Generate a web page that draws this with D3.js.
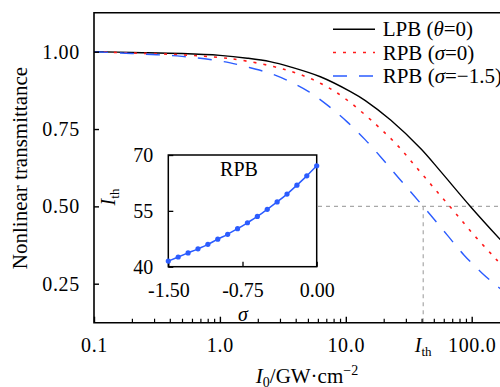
<!DOCTYPE html>
<html><head><meta charset="utf-8">
<script src="https://cdn.jsdelivr.net/npm/d3@7"></script>
<style>
html,body{margin:0;padding:0;background:#fff;}
svg{display:block;}
text{font-family:"Liberation Serif","Times New Roman",serif;fill:#000;}
</style></head>
<body>
<svg id="chart" width="500" height="387"></svg>
<script>
// ---- data ----
const lpbI = [0.1, 0.2, 0.5, 1.0, 1.65, 2.5, 3.62, 6.28, 10.9, 14.3, 22.7, 39.3, 56.6, 98, 170, 220];
const lpbT = [1.0, 0.9975, 0.994, 0.988, 0.979, 0.968, 0.951, 0.919, 0.871, 0.842, 0.779, 0.687, 0.613, 0.499, 0.391, 0.342];
const rpb0I = [0.1, 0.2, 0.5, 1.0, 1.45, 2.67, 4.10, 6.28, 9.62, 17.2, 25.6, 36.9, 53.2, 74.4, 107, 158, 220];
const rpb0T = [1.0, 0.996, 0.990, 0.981, 0.973, 0.952, 0.930, 0.898, 0.852, 0.766, 0.698, 0.623, 0.547, 0.478, 0.402, 0.327, 0.261];
const rpb15I = [0.1, 0.2, 0.5, 1.0, 1.21, 1.74, 2.51, 3.62, 5.07, 7.10, 10.2, 14.3, 19.4, 26.4, 34.7, 47.1, 64.0, 86.7, 121, 164, 220];
const rpb15T = [1.0, 0.994, 0.985, 0.970, 0.964, 0.948, 0.930, 0.903, 0.871, 0.828, 0.774, 0.715, 0.655, 0.591, 0.535, 0.472, 0.407, 0.343, 0.284, 0.238, 0.195];
const xTicks = [0.1, 1, 10, 100];
const yTicks = [0.25, 0.50, 0.75, 1.00];
const ith = 41.2;       // threshold intensity for sigma=-1.5
const ithT = 0.5;
// inset
const sigma = [-1.5, -1.4, -1.3, -1.2, -1.1, -1.0, -0.9, -0.8, -0.7, -0.6, -0.5, -0.4, -0.3, -0.2, -0.1, 0.0];
const ithVals = [41.5, 42.6, 43.7, 44.8, 46.0, 47.4, 48.7, 50.2, 51.8, 53.5, 55.4, 57.4, 59.5, 61.9, 64.4, 67.1];
const insetXTicks = [-1.5, -0.75, 0];
const insetYTicks = [40, 55, 70];

const series = [
  {I: lpbI, T: lpbT, color: "#000000", dash: null, width: 1.4, label: ["LPB (", "θ", "=0)"]},
  {I: rpb0I, T: rpb0T, color: "#ff1a1a", dash: "3,7", width: 1.6, label: ["RPB (", "σ", "=0)"]},
  {I: rpb15I, T: rpb15T, color: "#2b5cff", dash: "14,12", width: 1.4, label: ["RPB (", "σ", "=−1.5)"]}
];

const svg = d3.select("#chart");
const L = 94, R = 620, T0 = 12.7, B = 322.7;
const x = d3.scaleLog().domain([0.1, 100]).range([94, 471.7]);
const y = d3.scaleLinear().domain([0.25, 1.0]).range([283.7, 51.7]);

svg.append("defs").append("clipPath").attr("id", "pc")
  .append("rect").attr("x", L).attr("y", T0).attr("width", R - L).attr("height", B - T0);

// curves
const line = d3.line().x(d => x(d[0])).y(d => y(d[1])).curve(d3.curveCatmullRom.alpha(0.5));
const gc = svg.append("g").attr("clip-path", "url(#pc)");

// threshold guides
gc.append("line").attr("x1", 318).attr("x2", R).attr("y1", y(ithT)).attr("y2", y(ithT))
  .attr("stroke", "#a8a8a8").attr("stroke-width", 1.2).attr("stroke-dasharray", "4,4");
gc.append("line").attr("x1", x(ith)).attr("x2", x(ith)).attr("y1", y(ithT)).attr("y2", B)
  .attr("stroke", "#a8a8a8").attr("stroke-width", 1.2).attr("stroke-dasharray", "4,4");

series.forEach(s => {
  gc.append("path").datum(s.I.map((v, i) => [v, s.T[i]]))
    .attr("d", line).attr("fill", "none").attr("stroke", s.color)
    .attr("stroke-width", s.width).attr("stroke-dasharray", s.dash);
});

// frame
svg.append("path").attr("d", `M${R},${T0}H${L}V${B}H${R}`).attr("fill", "none")
  .attr("stroke", "#000").attr("stroke-width", 1.6);

// y axis
const gy = svg.append("g").attr("transform", `translate(${L},0)`)
  .call(d3.axisLeft(y).tickValues(yTicks).tickSize(-5).tickPadding(14).tickFormat(d3.format(".2f")));
gy.select(".domain").remove();
gy.selectAll("line").attr("stroke-width", 1.4);
gy.selectAll("text").attr("font-size", 20).attr("letter-spacing", 0.7).attr("font-family", "Liberation Serif");

// x axis major
const gx = svg.append("g").attr("transform", `translate(0,${B})`)
  .call(d3.axisBottom(x).tickValues(xTicks).tickSize(-6).tickPadding(15).tickFormat(d3.format(".1f")));
gx.select(".domain").remove();
gx.selectAll("line").attr("stroke-width", 1.4);
gx.selectAll("text").attr("font-size", 20).attr("letter-spacing", 0.7).attr("font-family", "Liberation Serif");
// minor
const minor = [];
[0.1, 1, 10, 100].forEach(dec => { for (let k = 2; k <= 9; k++) minor.push(dec * k); });
const gxm = svg.append("g").attr("transform", `translate(0,${B})`)
  .call(d3.axisBottom(x).tickValues(minor).tickSize(-4).tickFormat(""));
gxm.select(".domain").remove();
gxm.selectAll("line").attr("stroke-width", 1.2);

// I_th label on x axis
const ithLab = svg.append("text").attr("x", x(ith)).attr("y", 352).attr("text-anchor", "middle").attr("font-size", 20);
ithLab.append("tspan").attr("font-style", "italic").text("I");
ithLab.append("tspan").attr("font-size", 13).attr("dy", 4).text("th");

// axis titles
const xt = svg.append("text").attr("x", 307).attr("y", 383).attr("text-anchor", "middle").attr("font-size", 21);
xt.append("tspan").attr("font-style", "italic").text("I");
xt.append("tspan").attr("font-size", 14).attr("dy", 4).text("0");
xt.append("tspan").attr("dy", -4).text("/GW·cm");
xt.append("tspan").attr("font-size", 14).attr("dy", -8).text("−2");

svg.append("text").attr("transform", "translate(27,168) rotate(-90)")
  .attr("text-anchor", "middle").attr("font-size", 21).text("Nonlinear transmittance");

// legend
const lg = svg.append("g");
const ly = [29.3, 52.5, 76];
series.forEach((s, i) => {
  lg.append("line").attr("x1", 333).attr("x2", 375).attr("y1", ly[i]).attr("y2", ly[i])
    .attr("stroke", s.color).attr("stroke-width", s.width).attr("stroke-dasharray", s.dash);
  const t = lg.append("text").attr("x", 382.7).attr("y", ly[i] + 7).attr("font-size", 21);
  t.append("tspan").text(s.label[0]);
  t.append("tspan").attr("font-style", "italic").text(s.label[1]);
  t.append("tspan").text(s.label[2]);
});

// inset
const xi = d3.scaleLinear().domain([-1.5, 0]).range([168.3, 316.7]);
const yi = d3.scaleLinear().domain([40, 70]).range([266.7, 155]);
const gi = svg.append("g");
gi.append("rect").attr("x", 168.3).attr("y", 155).attr("width", 316.7 - 168.3).attr("height", 266.7 - 155)
  .attr("fill", "#fff").attr("stroke", "#000").attr("stroke-width", 1.5);
const giy = gi.append("g").attr("transform", "translate(168.3,0)")
  .call(d3.axisLeft(yi).tickValues(insetYTicks).tickSize(-5).tickPadding(15).tickFormat(d => String(d)));
giy.select(".domain").remove();
giy.selectAll("line").attr("stroke-width", 1.3);
giy.selectAll("text").attr("font-size", 20).attr("font-family", "Liberation Serif");
const gix = gi.append("g").attr("transform", "translate(0,266.7)")
  .call(d3.axisBottom(xi).tickValues(insetXTicks).tickSize(-5).tickPadding(16).tickFormat(d => (d === 0 ? 0 : d).toFixed(2)));
gix.select(".domain").remove();
gix.selectAll("line").attr("stroke-width", 1.3);
gix.selectAll("text").attr("font-size", 20).attr("font-family", "Liberation Serif");

const ipts = sigma.map((s, i) => [s, ithVals[i]]);
gi.append("path").datum(ipts)
  .attr("d", d3.line().x(d => xi(d[0])).y(d => yi(d[1])).curve(d3.curveMonotoneX))
  .attr("fill", "none").attr("stroke", "#2b5cff").attr("stroke-width", 1.5);
gi.selectAll("circle").data(ipts).join("circle")
  .attr("cx", d => xi(d[0])).attr("cy", d => yi(d[1])).attr("r", 2.6).attr("fill", "#2b5cff");

gi.append("text").attr("x", 239).attr("y", 176).attr("text-anchor", "middle").attr("font-size", 20).text("RPB");
gi.append("text").attr("x", 243).attr("y", 321).attr("text-anchor", "middle").attr("font-size", 20)
  .attr("font-style", "italic").text("σ");
const iyt = gi.append("text").attr("transform", "translate(115,197) rotate(-90)").attr("text-anchor", "middle").attr("font-size", 20);
iyt.append("tspan").attr("font-style", "italic").text("I");
iyt.append("tspan").attr("font-size", 13).attr("dy", 4).text("th");
</script>
</body></html>
